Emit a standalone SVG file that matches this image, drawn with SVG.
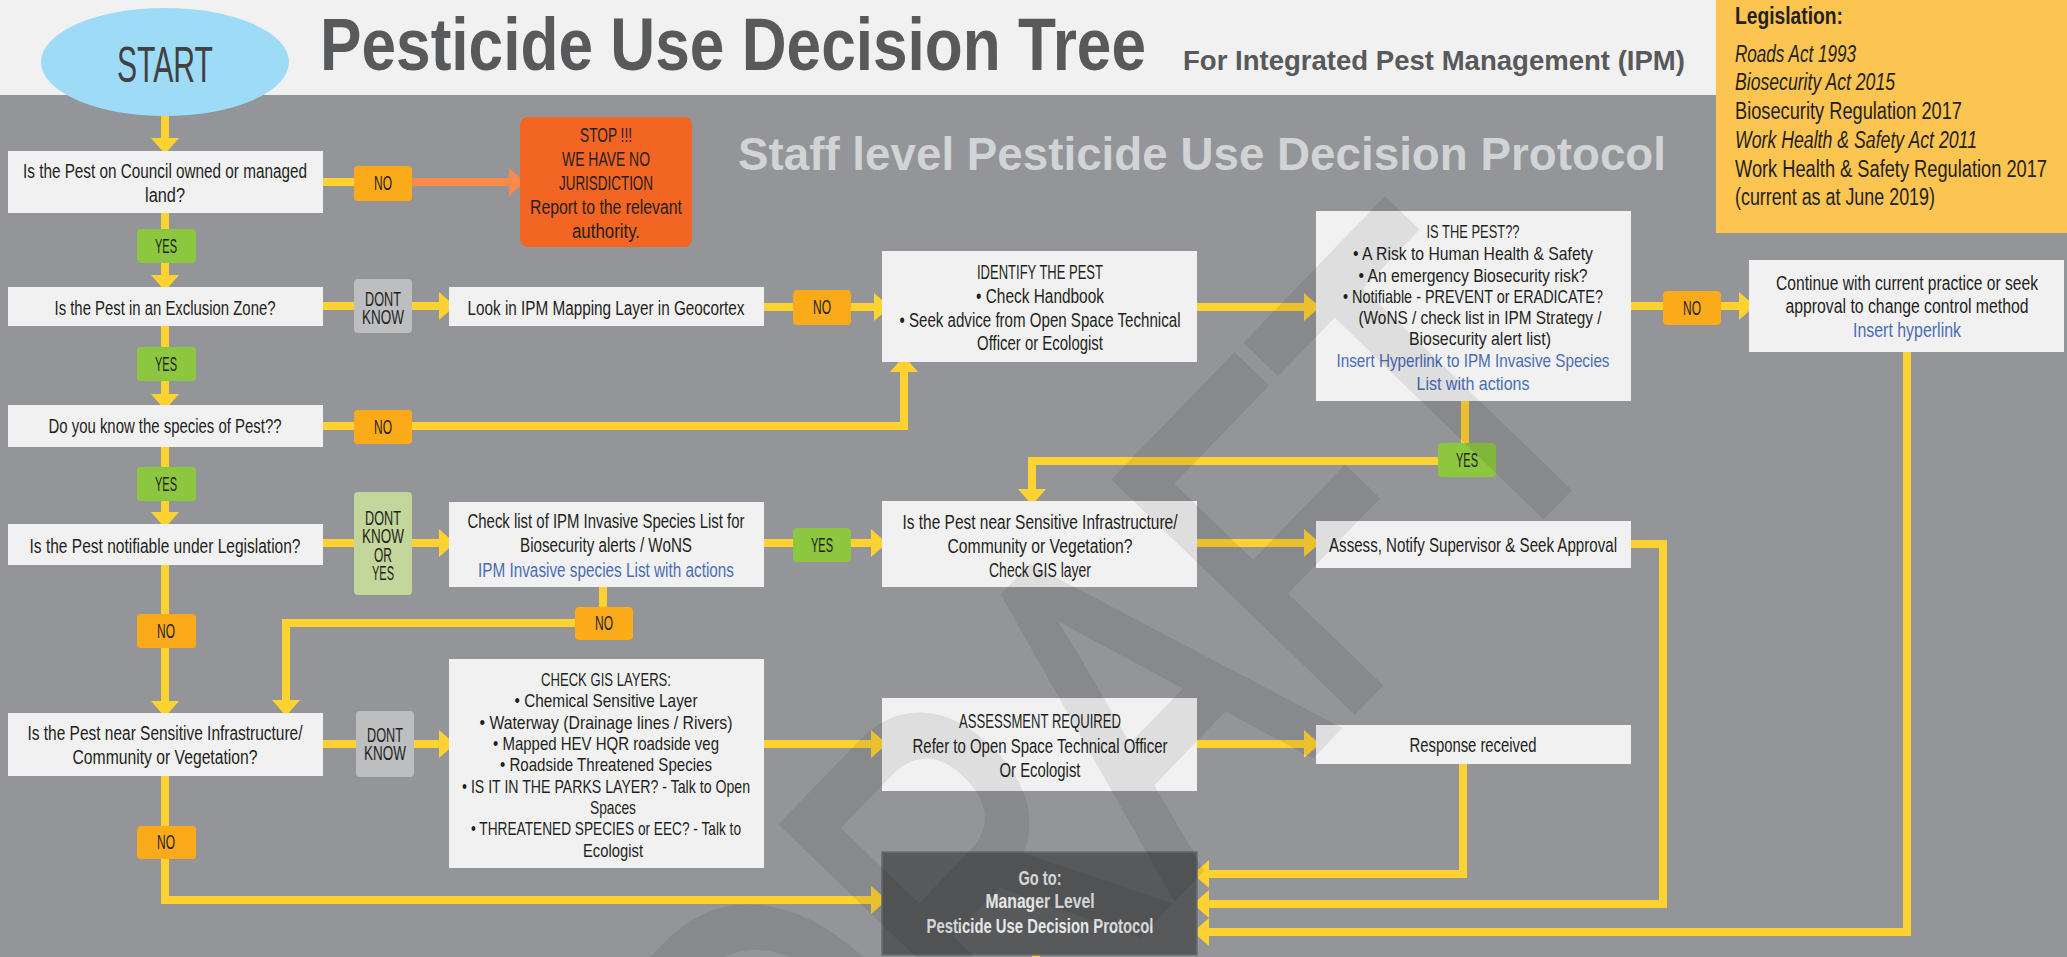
<svg xmlns="http://www.w3.org/2000/svg" width="2067" height="957" viewBox="0 0 2067 957">
<style>
.t{font-family:'Liberation Sans Narrow','Liberation Sans',Arial,sans-serif;font-size:20px;fill:#231f20;text-anchor:middle}
.s{font-size:19px}
.lnk{fill:#4a6db5}
.box{fill:#f1f1f2}
.no{fill:#fbaa19}
.yes{fill:#8dc63f}
.dk{fill:#bcbec0}
.dky{fill:#c3d69b}
.cn{fill:none;stroke:#fed231;stroke-width:8;stroke-linejoin:miter}
.leg{font-family:'Liberation Sans Narrow','Liberation Sans',Arial,sans-serif;font-size:23px;fill:#231f20}
.wm{font-family:'Liberation Sans',Arial,sans-serif;font-size:475px}
</style>
<defs>
<marker id="ah" markerUnits="userSpaceOnUse" markerWidth="16" markerHeight="28" viewBox="0 0 16 28" refX="0" refY="14" orient="auto"><path d="M0,0 L16,14 L0,28 Z" fill="#fed231"/></marker>
<marker id="aho" markerUnits="userSpaceOnUse" markerWidth="16" markerHeight="28" viewBox="0 0 16 28" refX="0" refY="14" orient="auto"><path d="M0,0 L16,14 L0,28 Z" fill="#f68b4c"/></marker>
</defs>

<!-- background -->
<rect x="0" y="0" width="2067" height="95" fill="#f1f1f2"/>
<rect x="0" y="95" width="2067" height="862" fill="#939598"/>

<!-- titles -->
<g id="titles">
<text x="320" y="70" font-family="'Liberation Sans Narrow','Liberation Sans',Arial,sans-serif" font-weight="bold" font-size="74" fill="#58595b" textLength="826" lengthAdjust="spacingAndGlyphs">Pesticide Use Decision Tree</text>
<text x="1183" y="70" font-family="'Liberation Sans Narrow','Liberation Sans',Arial,sans-serif" font-weight="bold" font-size="28" fill="#58595b" textLength="502" lengthAdjust="spacingAndGlyphs">For Integrated Pest Management (IPM)</text>
<text x="738" y="170" font-family="'Liberation Sans','Open Sans',Arial,sans-serif" font-weight="bold" font-size="46" fill="#d1d3d4" textLength="928" lengthAdjust="spacingAndGlyphs">Staff level Pesticide Use Decision Protocol</text>
</g>

<!-- legislation -->
<g id="legislation">
<rect x="1716" y="0" width="351" height="233" fill="#fcc450"/>
<text class="leg" x="1735" y="24" font-weight="bold" textLength="108" lengthAdjust="spacingAndGlyphs">Legislation:</text>
<text class="leg" x="1735" y="62" font-style="italic" textLength="121" lengthAdjust="spacingAndGlyphs">Roads Act 1993</text>
<text class="leg" x="1735" y="90" font-style="italic" textLength="160" lengthAdjust="spacingAndGlyphs">Biosecurity Act 2015</text>
<text class="leg" x="1735" y="119" textLength="227" lengthAdjust="spacingAndGlyphs">Biosecurity Regulation 2017</text>
<text class="leg" x="1735" y="148" font-style="italic" textLength="242" lengthAdjust="spacingAndGlyphs">Work Health &amp; Safety Act 2011</text>
<text class="leg" x="1735" y="177" textLength="312" lengthAdjust="spacingAndGlyphs">Work Health &amp; Safety Regulation 2017</text>
<text class="leg" x="1735" y="205" textLength="200" lengthAdjust="spacingAndGlyphs">(current as at June 2019)</text>
</g>

<!-- connectors -->
<g id="connectors">
<path class="cn" d="M165,113 V138" marker-end="url(#ah)"/>
<path class="cn" d="M165,213 V275" marker-end="url(#ah)"/>
<path class="cn" d="M165,326 V394" marker-end="url(#ah)"/>
<path class="cn" d="M165,447 V512" marker-end="url(#ah)"/>
<path class="cn" d="M323,182 H370"/>
<path d="M405,182 H509" fill="none" stroke="#f68b4c" stroke-width="8" marker-end="url(#aho)"/>
<path class="cn" d="M323,306 H439" marker-end="url(#ah)"/>
<path class="cn" d="M764,307 H874" marker-end="url(#ah)"/>
<path class="cn" d="M323,426 H904 V372" marker-end="url(#ah)"/>
<path class="cn" d="M1197,307 H1304" marker-end="url(#ah)"/>
<path class="cn" d="M1631,306 H1739" marker-end="url(#ah)"/>
<path class="cn" d="M1907,352 V932 H1209" marker-end="url(#ah)"/>
<path class="cn" d="M1465,401 V461 H1032 V489" marker-end="url(#ah)"/>
<path class="cn" d="M323,543 H439" marker-end="url(#ah)"/>
<path class="cn" d="M764,543 H871" marker-end="url(#ah)"/>
<path class="cn" d="M1197,543 H1304" marker-end="url(#ah)"/>
<path class="cn" d="M1631,544 H1663 V904 H1209" marker-end="url(#ah)"/>
<path class="cn" d="M603,587 V623 H286 V700" marker-end="url(#ah)"/>
<path class="cn" d="M165,565 V701" marker-end="url(#ah)"/>
<path class="cn" d="M323,744 H439" marker-end="url(#ah)"/>
<path class="cn" d="M764,744 H871" marker-end="url(#ah)"/>
<path class="cn" d="M1192,744 H1304" marker-end="url(#ah)"/>
<path class="cn" d="M1463,764 V874 H1209" marker-end="url(#ah)"/>
<path class="cn" d="M165,776 V900 H871" marker-end="url(#ah)"/>
<path class="cn" d="M1036,955 V957"/>
</g>

<!-- connector labels -->
<g id="labels">
<rect class="no" x="354" y="166" width="58" height="35" rx="4"/><text class="t" x="383" y="190" textLength="18" lengthAdjust="spacingAndGlyphs">NO</text>
<rect class="yes" x="137" y="229" width="59" height="34" rx="4"/><text class="t" x="166" y="253" textLength="22" lengthAdjust="spacingAndGlyphs">YES</text>
<rect class="dk" x="354" y="279" width="58" height="54" rx="4"/><text class="t" x="383" y="306" textLength="36" lengthAdjust="spacingAndGlyphs">DONT</text><text class="t" x="383" y="324" textLength="42" lengthAdjust="spacingAndGlyphs">KNOW</text>
<rect class="yes" x="137" y="347" width="59" height="34" rx="4"/><text class="t" x="166" y="371" textLength="22" lengthAdjust="spacingAndGlyphs">YES</text>
<rect class="no" x="354" y="410" width="58" height="34" rx="4"/><text class="t" x="383" y="434" textLength="18" lengthAdjust="spacingAndGlyphs">NO</text>
<rect class="yes" x="137" y="467" width="59" height="34" rx="4"/><text class="t" x="166" y="491" textLength="22" lengthAdjust="spacingAndGlyphs">YES</text>
<rect class="dky" x="354" y="492" width="58" height="103" rx="4"/>
<text class="t" x="383" y="525" textLength="36" lengthAdjust="spacingAndGlyphs">DONT</text>
<text class="t" x="383" y="543" textLength="42" lengthAdjust="spacingAndGlyphs">KNOW</text>
<text class="t" x="383" y="562" textLength="18" lengthAdjust="spacingAndGlyphs">OR</text>
<text class="t" x="383" y="580" textLength="22" lengthAdjust="spacingAndGlyphs">YES</text>
<rect class="no" x="137" y="614" width="59" height="34" rx="4"/><text class="t" x="166" y="638" textLength="18" lengthAdjust="spacingAndGlyphs">NO</text>
<rect class="no" x="575" y="607" width="58" height="33" rx="4"/><text class="t" x="604" y="630" textLength="18" lengthAdjust="spacingAndGlyphs">NO</text>
<rect class="dk" x="356" y="711" width="58" height="66" rx="4"/><text class="t" x="385" y="742" textLength="36" lengthAdjust="spacingAndGlyphs">DONT</text><text class="t" x="385" y="760" textLength="42" lengthAdjust="spacingAndGlyphs">KNOW</text>
<rect class="no" x="137" y="826" width="59" height="33" rx="4"/><text class="t" x="166" y="849" textLength="18" lengthAdjust="spacingAndGlyphs">NO</text>
<rect class="no" x="793" y="290" width="58" height="35" rx="4"/><text class="t" x="822" y="314" textLength="18" lengthAdjust="spacingAndGlyphs">NO</text>
<rect class="no" x="1663" y="291" width="58" height="34" rx="4"/><text class="t" x="1692" y="315" textLength="18" lengthAdjust="spacingAndGlyphs">NO</text>
<rect class="yes" x="1438" y="443" width="58" height="34" rx="4"/><text class="t" x="1467" y="467" textLength="22" lengthAdjust="spacingAndGlyphs">YES</text>
<rect class="yes" x="793" y="528" width="58" height="34" rx="4"/><text class="t" x="822" y="552" textLength="22" lengthAdjust="spacingAndGlyphs">YES</text>
</g>

<!-- nodes -->
<g id="start">
<ellipse cx="165" cy="62" rx="124" ry="54" fill="#9ddbf6"/>
<text x="165" y="82" font-family="'Liberation Sans Narrow','Liberation Sans',Arial,sans-serif" font-size="50" fill="#414042" text-anchor="middle" textLength="96" lengthAdjust="spacingAndGlyphs">START</text>
</g>

<g id="q-council">
<rect class="box" x="8" y="151" width="315" height="62"/>
<text class="t" x="165" y="178" textLength="284" lengthAdjust="spacingAndGlyphs">Is the Pest on Council owned or managed</text>
<text class="t" x="165" y="202" textLength="40" lengthAdjust="spacingAndGlyphs">land?</text>
</g>

<g id="stop">
<rect x="520" y="117" width="172" height="130" rx="8" fill="#f26522"/>
<text class="t" x="606" y="142" textLength="52" lengthAdjust="spacingAndGlyphs">STOP !!!</text>
<text class="t" x="606" y="166" textLength="88" lengthAdjust="spacingAndGlyphs">WE HAVE NO</text>
<text class="t" x="606" y="190" textLength="94" lengthAdjust="spacingAndGlyphs">JURISDICTION</text>
<text class="t" x="606" y="214" textLength="152" lengthAdjust="spacingAndGlyphs">Report to the relevant</text>
<text class="t" x="606" y="238" textLength="68" lengthAdjust="spacingAndGlyphs">authority.</text>
</g>

<g id="q-exclusion">
<rect class="box" x="8" y="287" width="315" height="39"/>
<text class="t" x="165" y="315" textLength="221" lengthAdjust="spacingAndGlyphs">Is the Pest in an Exclusion Zone?</text>
</g>

<g id="look-ipm">
<rect class="box" x="449" y="287" width="315" height="39"/>
<text class="t" x="606" y="315" textLength="277" lengthAdjust="spacingAndGlyphs">Look in IPM Mapping Layer in Geocortex</text>
</g>

<g id="identify">
<rect class="box" x="882" y="251" width="315" height="111"/>
<text class="t" x="1040" y="279" textLength="126" lengthAdjust="spacingAndGlyphs">IDENTIFY THE PEST</text>
<text class="t" x="1040" y="303" textLength="128" lengthAdjust="spacingAndGlyphs">• Check Handbook</text>
<text class="t" x="1040" y="327" textLength="281" lengthAdjust="spacingAndGlyphs">• Seek advice from Open Space Technical</text>
<text class="t" x="1040" y="350" textLength="126" lengthAdjust="spacingAndGlyphs">Officer or Ecologist</text>
</g>

<g id="is-the-pest">
<rect class="box" x="1316" y="211" width="315" height="190"/>
<text class="t s" x="1473" y="238" textLength="93" lengthAdjust="spacingAndGlyphs">IS THE PEST??</text>
<text class="t s" x="1473" y="260" textLength="240" lengthAdjust="spacingAndGlyphs">• A Risk to Human Health &amp; Safety</text>
<text class="t s" x="1473" y="282" textLength="229" lengthAdjust="spacingAndGlyphs">• An emergency Biosecurity risk?</text>
<text class="t s" x="1473" y="303" textLength="260" lengthAdjust="spacingAndGlyphs">• Notifiable - PREVENT or ERADICATE?</text>
<text class="t s" x="1480" y="324" textLength="243" lengthAdjust="spacingAndGlyphs">(WoNS / check list in IPM Strategy /</text>
<text class="t s" x="1480" y="345" textLength="142" lengthAdjust="spacingAndGlyphs">Biosecurity alert list)</text>
<text class="t s lnk" x="1473" y="367" textLength="273" lengthAdjust="spacingAndGlyphs">Insert Hyperlink to IPM Invasive Species</text>
<text class="t s lnk" x="1473" y="390" textLength="113" lengthAdjust="spacingAndGlyphs">List with actions</text>
</g>

<g id="continue">
<rect class="box" x="1749" y="260" width="315" height="92"/>
<text class="t" x="1907" y="290" textLength="262" lengthAdjust="spacingAndGlyphs">Continue with current practice or seek</text>
<text class="t" x="1907" y="313" textLength="243" lengthAdjust="spacingAndGlyphs">approval to change control method</text>
<text class="t lnk" x="1907" y="337" textLength="108" lengthAdjust="spacingAndGlyphs">Insert hyperlink</text>
</g>

<g id="q-species">
<rect class="box" x="8" y="405" width="315" height="42"/>
<text class="t" x="165" y="433" textLength="233" lengthAdjust="spacingAndGlyphs">Do you know the species of Pest??</text>
</g>

<g id="q-notifiable">
<rect class="box" x="8" y="524" width="315" height="41"/>
<text class="t" x="165" y="553" textLength="271" lengthAdjust="spacingAndGlyphs">Is the Pest notifiable under Legislation?</text>
</g>

<g id="check-list">
<rect class="box" x="449" y="502" width="315" height="85"/>
<text class="t" x="606" y="528" textLength="277" lengthAdjust="spacingAndGlyphs">Check list of IPM Invasive Species List for</text>
<text class="t" x="606" y="552" textLength="172" lengthAdjust="spacingAndGlyphs">Biosecurity alerts / WoNS</text>
<text class="t lnk" x="606" y="577" textLength="256" lengthAdjust="spacingAndGlyphs">IPM Invasive species List with actions</text>
</g>

<g id="sensitive-mid">
<rect class="box" x="882" y="501" width="315" height="86"/>
<text class="t" x="1040" y="529" textLength="275" lengthAdjust="spacingAndGlyphs">Is the Pest near Sensitive Infrastructure/</text>
<text class="t" x="1040" y="553" textLength="185" lengthAdjust="spacingAndGlyphs">Community or Vegetation?</text>
<text class="t" x="1040" y="577" textLength="102" lengthAdjust="spacingAndGlyphs">Check GIS layer</text>
</g>

<g id="assess">
<rect class="box" x="1316" y="521" width="315" height="47"/>
<text class="t" x="1473" y="552" textLength="288" lengthAdjust="spacingAndGlyphs">Assess, Notify Supervisor &amp; Seek Approval</text>
</g>

<g id="sensitive-left">
<rect class="box" x="8" y="713" width="315" height="63"/>
<text class="t" x="165" y="740" textLength="275" lengthAdjust="spacingAndGlyphs">Is the Pest near Sensitive Infrastructure/</text>
<text class="t" x="165" y="764" textLength="185" lengthAdjust="spacingAndGlyphs">Community or Vegetation?</text>
</g>

<g id="check-gis">
<rect class="box" x="449" y="659" width="315" height="209"/>
<text class="t s" x="606" y="686" textLength="130" lengthAdjust="spacingAndGlyphs">CHECK GIS LAYERS:</text>
<text class="t s" x="606" y="707" textLength="183" lengthAdjust="spacingAndGlyphs">• Chemical Sensitive Layer</text>
<text class="t s" x="606" y="729" textLength="253" lengthAdjust="spacingAndGlyphs">• Waterway (Drainage lines / Rivers)</text>
<text class="t s" x="606" y="750" textLength="226" lengthAdjust="spacingAndGlyphs">• Mapped HEV HQR roadside veg</text>
<text class="t s" x="606" y="771" textLength="212" lengthAdjust="spacingAndGlyphs">• Roadside Threatened Species</text>
<text class="t s" x="606" y="793" textLength="288" lengthAdjust="spacingAndGlyphs">• IS IT IN THE PARKS LAYER? - Talk to Open</text>
<text class="t s" x="613" y="814" textLength="46" lengthAdjust="spacingAndGlyphs">Spaces</text>
<text class="t s" x="606" y="835" textLength="270" lengthAdjust="spacingAndGlyphs">• THREATENED SPECIES or EEC? - Talk to</text>
<text class="t s" x="613" y="857" textLength="60" lengthAdjust="spacingAndGlyphs">Ecologist</text>
</g>

<g id="assessment">
<rect class="box" x="882" y="698" width="315" height="93"/>
<text class="t" x="1040" y="728" textLength="162" lengthAdjust="spacingAndGlyphs">ASSESSMENT REQUIRED</text>
<text class="t" x="1040" y="753" textLength="255" lengthAdjust="spacingAndGlyphs">Refer to Open Space Technical Officer</text>
<text class="t" x="1040" y="777" textLength="81" lengthAdjust="spacingAndGlyphs">Or Ecologist</text>
</g>

<g id="response">
<rect class="box" x="1316" y="725" width="315" height="39"/>
<text class="t" x="1473" y="752" textLength="127" lengthAdjust="spacingAndGlyphs">Response received</text>
</g>

<g id="manager">
<rect x="882" y="852" width="315" height="103" fill="#58595b" stroke="#6d6e71" stroke-width="1.5"/>
<text class="t" x="1040" y="885" font-weight="bold" style="fill:#e6e7e8" textLength="43" lengthAdjust="spacingAndGlyphs">Go to:</text>
<text class="t" x="1040" y="908" font-weight="bold" style="fill:#e6e7e8" textLength="109" lengthAdjust="spacingAndGlyphs">Manager Level</text>
<text class="t" x="1040" y="933" font-weight="bold" style="fill:#e6e7e8" textLength="227" lengthAdjust="spacingAndGlyphs">Pesticide Use Decision Protocol</text>
</g>

<!-- watermark -->
<g id="watermark" opacity="0.075" transform="rotate(-46 828 1252)">
<text class="wm" x="828" y="1252" fill="#000" stroke="#000" stroke-width="12" stroke-linejoin="miter" textLength="1150" lengthAdjust="spacingAndGlyphs">DRAFT</text>
</g>
</svg>
